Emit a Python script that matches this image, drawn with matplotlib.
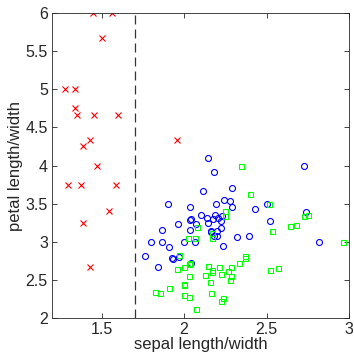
import matplotlib
matplotlib.use("Agg")
import matplotlib.pyplot as plt
import numpy as np

# iris measurements: sepal length, sepal width, petal length, petal width
setosa = [
    (5.1, 3.5, 1.4, 0.2), (4.9, 3.0, 1.4, 0.2), (4.7, 3.2, 1.3, 0.2), (4.6, 3.1, 1.5, 0.2),
    (5.0, 3.6, 1.4, 0.2), (5.4, 3.9, 1.7, 0.4), (4.6, 3.4, 1.4, 0.3), (5.0, 3.4, 1.5, 0.2),
    (4.4, 2.9, 1.4, 0.2), (4.9, 3.1, 1.5, 0.1), (5.4, 3.7, 1.5, 0.2), (4.8, 3.4, 1.6, 0.2),
    (4.8, 3.0, 1.4, 0.1), (4.3, 3.0, 1.1, 0.1), (5.8, 4.0, 1.2, 0.2), (5.7, 4.4, 1.5, 0.4),
    (5.4, 3.9, 1.3, 0.4), (5.1, 3.5, 1.4, 0.3), (5.7, 3.8, 1.7, 0.3), (5.1, 3.8, 1.5, 0.3),
    (5.4, 3.4, 1.7, 0.2), (5.1, 3.7, 1.5, 0.4), (4.6, 3.6, 1.0, 0.2), (5.1, 3.3, 1.7, 0.5),
    (4.8, 3.4, 1.9, 0.2), (5.0, 3.0, 1.6, 0.2), (5.0, 3.4, 1.6, 0.4), (5.2, 3.5, 1.5, 0.2),
    (5.2, 3.4, 1.4, 0.2), (4.7, 3.2, 1.6, 0.2), (4.8, 3.1, 1.6, 0.2), (5.4, 3.4, 1.5, 0.4),
    (5.2, 4.1, 1.5, 0.1), (5.5, 4.2, 1.4, 0.2), (4.9, 3.1, 1.5, 0.1), (5.0, 3.2, 1.2, 0.2),
    (5.5, 3.5, 1.3, 0.2), (4.9, 3.1, 1.5, 0.1), (4.4, 3.0, 1.3, 0.2), (5.1, 3.4, 1.5, 0.2),
    (5.0, 3.5, 1.3, 0.3), (4.5, 2.3, 1.3, 0.3), (4.4, 3.2, 1.3, 0.2), (5.0, 3.5, 1.6, 0.6),
    (5.1, 3.8, 1.9, 0.4), (4.8, 3.0, 1.4, 0.3), (5.1, 3.8, 1.6, 0.2), (4.6, 3.2, 1.4, 0.2),
    (5.3, 3.7, 1.5, 0.2), (5.0, 3.3, 1.4, 0.2),
]
versicolor = [
    (7.0, 3.2, 4.7, 1.4), (6.4, 3.2, 4.5, 1.5), (6.9, 3.1, 4.9, 1.5), (5.5, 2.3, 4.0, 1.3),
    (6.5, 2.8, 4.6, 1.5), (5.7, 2.8, 4.5, 1.3), (6.3, 3.3, 4.7, 1.6), (4.9, 2.4, 3.3, 1.0),
    (6.6, 2.9, 4.6, 1.3), (5.2, 2.7, 3.9, 1.4), (5.0, 2.0, 3.5, 1.0), (5.9, 3.0, 4.2, 1.5),
    (6.0, 2.2, 4.0, 1.0), (6.1, 2.9, 4.7, 1.4), (5.6, 2.9, 3.6, 1.3), (6.7, 3.1, 4.4, 1.4),
    (5.6, 3.0, 4.5, 1.5), (5.8, 2.7, 4.1, 1.0), (6.2, 2.2, 4.5, 1.5), (5.6, 2.5, 3.9, 1.1),
    (5.9, 3.2, 4.8, 1.8), (6.1, 2.8, 4.0, 1.3), (6.3, 2.5, 4.9, 1.5), (6.1, 2.8, 4.7, 1.2),
    (6.4, 2.9, 4.3, 1.3), (6.6, 3.0, 4.4, 1.4), (6.8, 2.8, 4.8, 1.4), (6.7, 3.0, 5.0, 1.7),
    (6.0, 2.9, 4.5, 1.5), (5.7, 2.6, 3.5, 1.0), (5.5, 2.4, 3.8, 1.1), (5.5, 2.4, 3.7, 1.0),
    (5.8, 2.7, 3.9, 1.2), (6.0, 2.7, 5.1, 1.6), (5.4, 3.0, 4.5, 1.5), (6.0, 3.4, 4.5, 1.6),
    (6.7, 3.1, 4.7, 1.5), (6.3, 2.3, 4.4, 1.3), (5.6, 3.0, 4.1, 1.3), (5.5, 2.5, 4.0, 1.3),
    (5.5, 2.6, 4.4, 1.2), (6.1, 3.0, 4.6, 1.4), (5.8, 2.6, 4.0, 1.2), (5.0, 2.3, 3.3, 1.0),
    (5.6, 2.7, 4.2, 1.3), (5.7, 3.0, 4.2, 1.2), (5.7, 2.9, 4.2, 1.3), (6.2, 2.9, 4.3, 1.3),
    (5.1, 2.5, 3.0, 1.1), (5.7, 2.8, 4.1, 1.3),
]
virginica = [
    (6.3, 3.3, 6.0, 2.5), (5.8, 2.7, 5.1, 1.9), (7.1, 3.0, 5.9, 2.1), (6.3, 2.9, 5.6, 1.8),
    (6.5, 3.0, 5.8, 2.2), (7.6, 3.0, 6.6, 2.1), (4.9, 2.5, 4.5, 1.7), (7.3, 2.9, 6.3, 1.8),
    (6.7, 2.5, 5.8, 1.8), (7.2, 3.6, 6.1, 2.5), (6.5, 3.2, 5.1, 2.0), (6.4, 2.7, 5.3, 1.9),
    (6.8, 3.0, 5.5, 2.1), (5.7, 2.5, 5.0, 2.0), (5.8, 2.8, 5.1, 2.4), (6.4, 3.2, 5.3, 2.3),
    (6.5, 3.0, 5.5, 1.8), (7.7, 3.8, 6.7, 2.2), (7.7, 2.6, 6.9, 2.3), (6.0, 2.2, 5.0, 1.5),
    (6.9, 3.2, 5.7, 2.3), (5.6, 2.8, 4.9, 2.0), (7.7, 2.8, 6.7, 2.0), (6.3, 2.7, 4.9, 1.8),
    (6.7, 3.3, 5.7, 2.1), (7.2, 3.2, 6.0, 1.8), (6.2, 2.8, 4.8, 1.8), (6.1, 3.0, 4.9, 1.8),
    (6.4, 2.8, 5.6, 2.1), (7.2, 3.0, 5.8, 1.6), (7.4, 2.8, 6.1, 1.9), (7.9, 3.8, 6.4, 2.0),
    (6.4, 2.8, 5.6, 2.2), (6.3, 2.8, 5.1, 1.5), (6.1, 2.6, 5.6, 1.4), (7.7, 3.0, 6.1, 2.3),
    (6.3, 3.4, 5.6, 2.4), (6.4, 3.1, 5.5, 1.8), (6.0, 3.0, 4.8, 1.8), (6.9, 3.1, 5.4, 2.1),
    (6.7, 3.1, 5.6, 2.4), (6.9, 3.1, 5.1, 2.3), (5.8, 2.7, 5.1, 1.9), (6.8, 3.2, 5.9, 2.3),
    (6.7, 3.3, 5.7, 2.5), (6.7, 3.0, 5.2, 2.3), (6.3, 2.5, 5.0, 1.9), (6.5, 3.0, 5.2, 2.0),
    (6.2, 3.4, 5.4, 2.3), (5.9, 3.0, 5.1, 1.8),
]
split_x = 1.7
x_ticks = [1.5, 2, 2.5, 3]
y_ticks = [2, 2.5, 3, 3.5, 4, 4.5, 5, 5.5, 6]

plt.rcParams['font.family'] = ['Liberation Sans', 'DejaVu Sans']

fig = plt.figure(figsize=(3.54, 3.53), dpi=100)
ax = fig.add_axes([0.147, 0.099, 0.839, 0.864])

styles = [
    (setosa, dict(marker='x', color='red', markersize=4, markeredgewidth=0.8, linestyle='none')),
    (versicolor, dict(marker='o', markerfacecolor='none', markeredgecolor='blue',
                      markersize=4.3, markeredgewidth=0.8, linestyle='none')),
    (virginica, dict(marker='s', markerfacecolor='none', markeredgecolor='#00ff00',
                     markersize=3.6, markeredgewidth=0.8, linestyle='none')),
]
for data, kw in styles:
    d = np.array(data)
    ax.plot(d[:, 0] / d[:, 1], d[:, 2] / d[:, 3], clip_on=True, **kw)

ax.axvline(split_x, color='#333333', linestyle=(0, (7.2, 4)), linewidth=0.9)

ax.set_xlim(1.2, 3)
ax.set_ylim(2, 6)
ax.set_xticks(x_ticks)
ax.set_xticklabels(['1.5', '2', '2.5', '3'])
ax.set_yticks(y_ticks)
ax.set_yticklabels(['2', '2.5', '3', '3.5', '4', '4.5', '5', '5.5', '6'])
ax.tick_params(direction='in', top=True, right=True, length=3.5, width=0.6,
               labelsize=11.5, colors='#262626', pad=3)
for s in ax.spines.values():
    s.set_color('#262626')
    s.set_linewidth(0.6)

ax.set_xlabel('sepal length/width', fontsize=12, color='#262626', labelpad=0)
ax.set_ylabel('petal length/width', fontsize=12, color='#262626', labelpad=2)

fig.savefig('out.png', dpi=100)
